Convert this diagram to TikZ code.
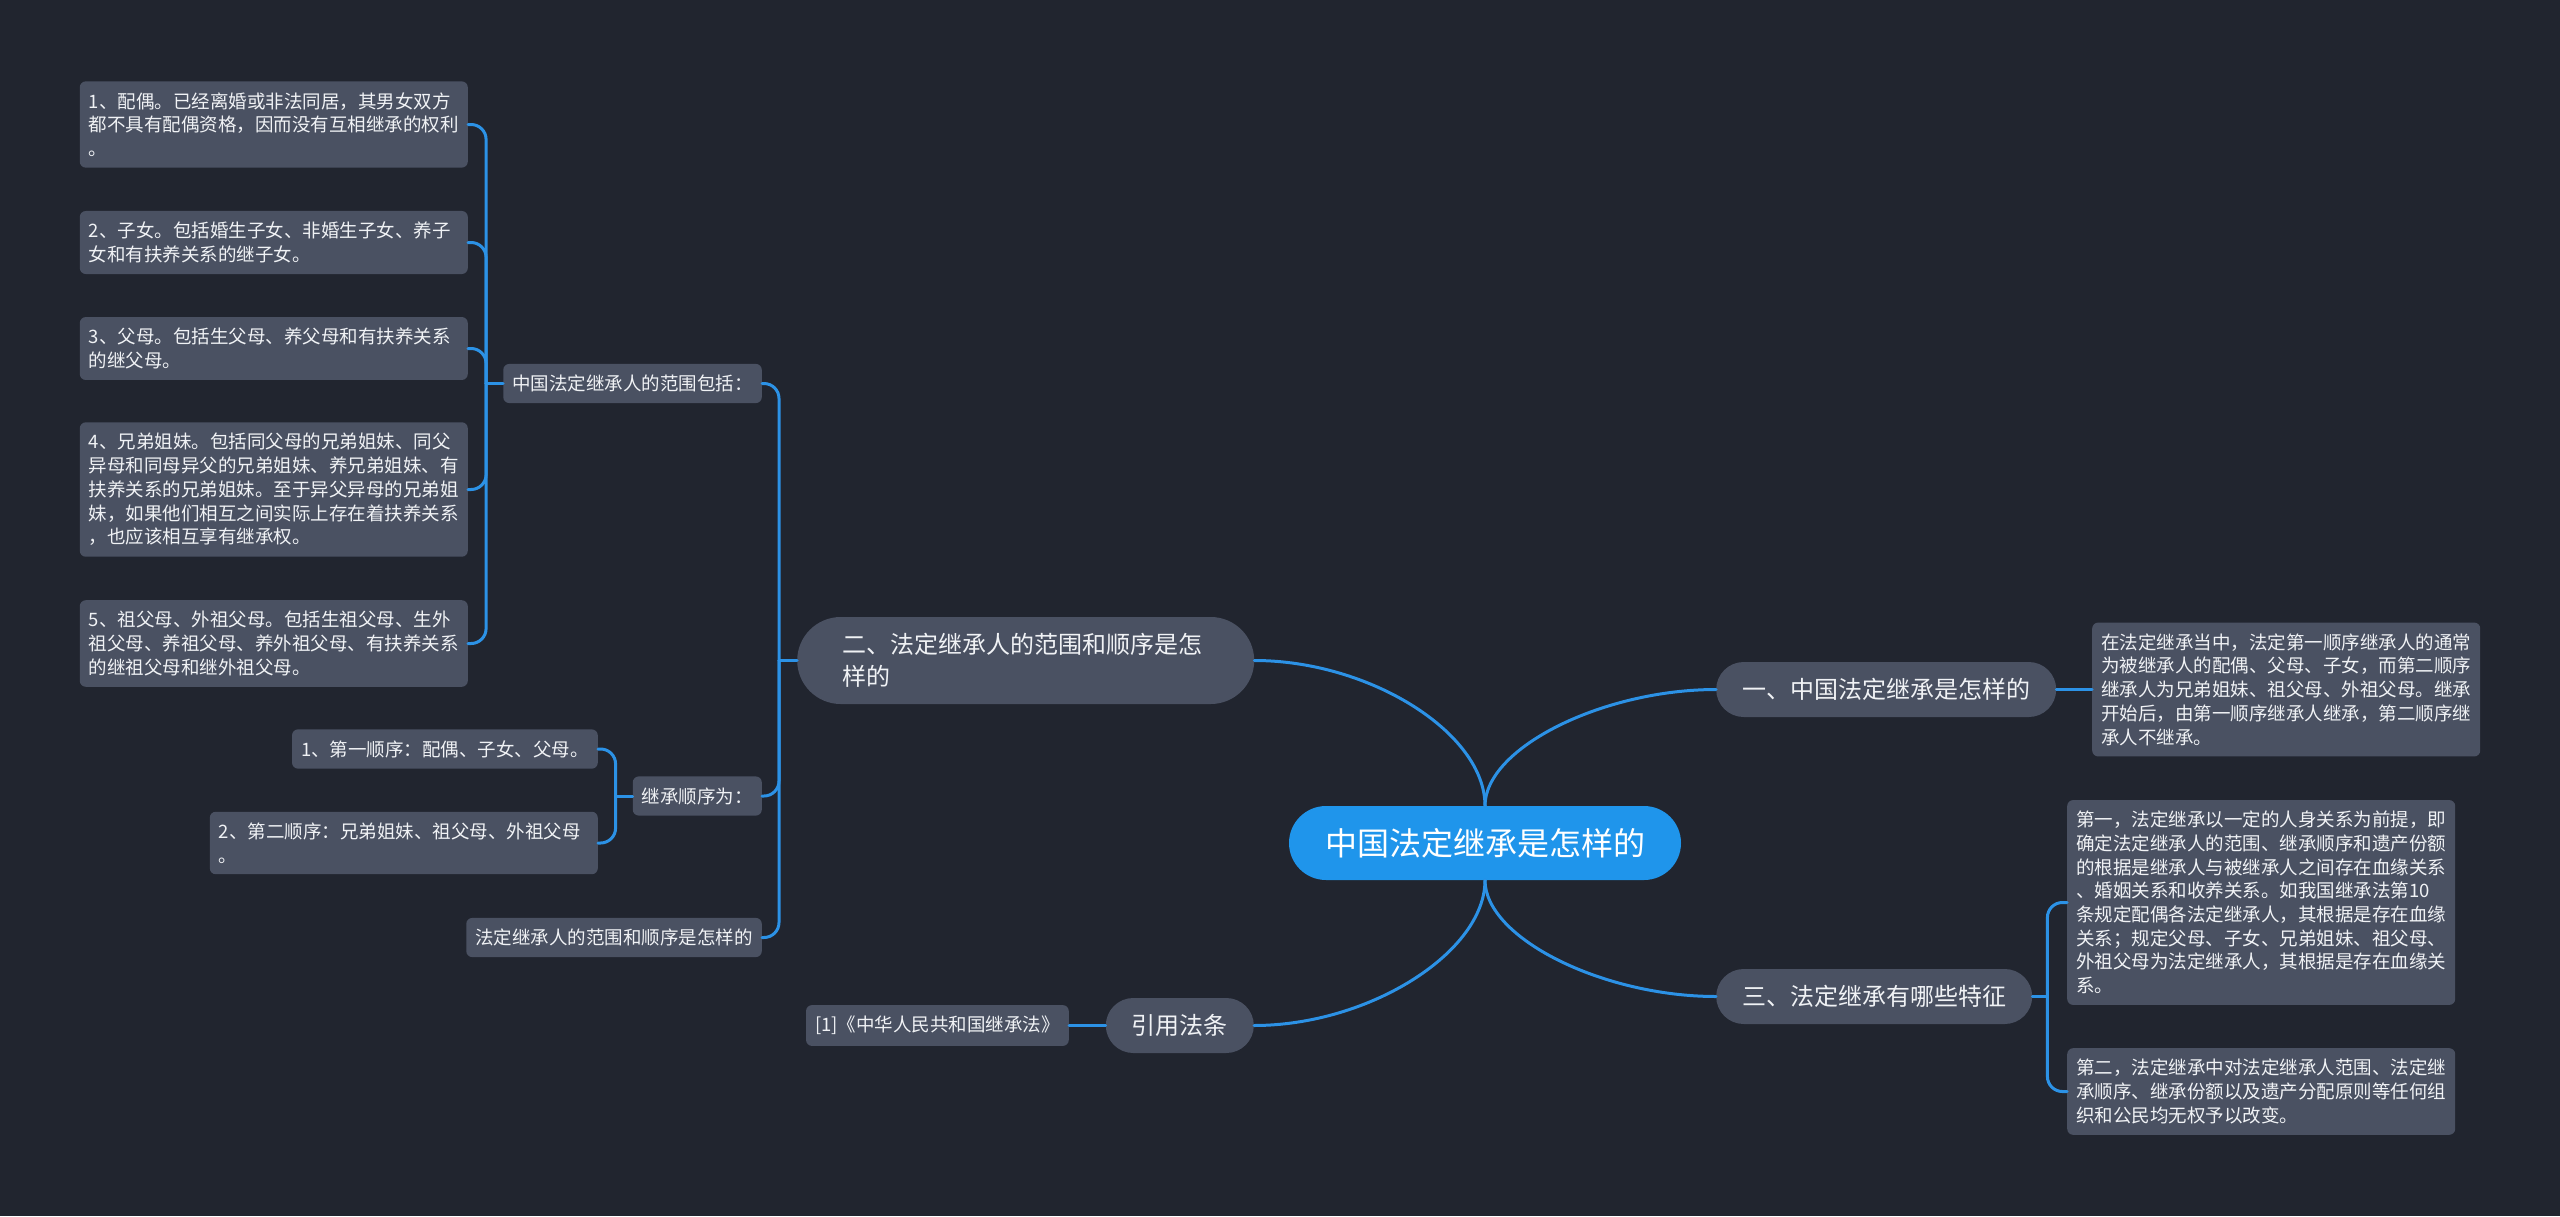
\documentclass[tikz,border=0pt]{standalone}
\usepackage{fontspec}
\usetikzlibrary{positioning}
\newfontfamily\cjk{Noto Sans CJK SC}
\definecolor{bgdark}{HTML}{21252F}
\definecolor{boxgray}{HTML}{4A5162}
\definecolor{linkblue}{HTML}{2C92E6}
\definecolor{rootblue}{HTML}{1F95EB}
\definecolor{txtwhite}{HTML}{F0F2F5}

\begin{document}
\begin{tikzpicture}[x=1pt,y=-1pt,
    link/.style={draw=linkblue,line width=3pt,line cap=round},
    leaf/.style={fill=boxgray,text=txtwhite,rounded corners=6pt,align=left,
      inner xsep=9pt,inner ysep=11pt,font=\cjk\fontsize{18.5}{23.7}\selectfont},
    wideleaf/.style={leaf,text width=370pt},
    pill/.style={fill=boxgray,text=txtwhite,rounded corners=27.5pt,minimum height=55pt,
      inner xsep=26pt,inner ysep=8pt,font=\cjk\fontsize{24}{31.7}\selectfont},
    rootpill/.style={fill=rootblue,text=white,rounded corners=37pt,minimum height=74pt,
      inner xsep=36pt,font=\cjk\fontsize{32}{38}\selectfont}]
      \useasboundingbox (0,0) rectangle (2560,1216);
      \fill[bgdark] (0,0) rectangle (2560,1216);

      \node[rootpill] (root) at (1485,843) {中国法定继承是怎样的};

      \node[pill, anchor=west] (one) at (1716,689.5) {一、中国法定继承是怎样的};
      \node[pill, anchor=west, rounded corners=43.5pt, minimum height=87pt, text width=366pt, inner xsep=45.5pt, align=left] (two) at (797,660.5) {二、法定继承人的范围和顺序是怎\\样的};
      \node[pill, anchor=west] (three) at (1716,996.5) {三、法定继承有哪些特征};
      \node[pill, anchor=east] (cite) at (1254,1025.5) {引用法条};

      \node[wideleaf, anchor=west] (onetext) at (2092,689.5) {在法定继承当中，法定第一顺序继承人的通常\\为被继承人的配偶、父母、子女，而第二顺序\\继承人为兄弟姐妹、祖父母、外祖父母。继承\\开始后，由第一顺序继承人继承，第二顺序继\\承人不继承。};

      \node[wideleaf, anchor=west] (feat1) at (2067,902.5) {第一，法定继承以一定的人身关系为前提，即\\确定法定继承人的范围、继承顺序和遗产份额\\的根据是继承人与被继承人之间存在血缘关系\\、婚姻关系和收养关系。如我国继承法第10\\条规定配偶各法定继承人，其根据是存在血缘\\关系；规定父母、子女、兄弟姐妹、祖父母、\\外祖父母为法定继承人，其根据是存在血缘关\\系。};
      \node[wideleaf, anchor=west] (feat2) at (2067,1091.5) {第二，法定继承中对法定继承人范围、法定继\\承顺序、继承份额以及遗产分配原则等任何组\\织和公民均无权予以改变。};

      \node[leaf, anchor=east] (law) at (1069,1025.5) {[1]《中华人民共和国继承法》};

      \node[leaf, anchor=east] (range) at (762,383.5) {中国法定继承人的范围包括：};
      \node[leaf, anchor=east] (order) at (762,796) {继承顺序为：};
      \node[leaf, anchor=east] (rest) at (762,937.5) {法定继承人的范围和顺序是怎样的};

      \node[wideleaf, anchor=east] (heir1) at (468,124.5) {1、配偶。已经离婚或非法同居，其男女双方\\都不具有配偶资格，因而没有互相继承的权利\\。};
      \node[wideleaf, anchor=east] (heir2) at (468,242.5) {2、子女。包括婚生子女、非婚生子女、养子\\女和有扶养关系的继子女。};
      \node[wideleaf, anchor=east] (heir3) at (468,348.5) {3、父母。包括生父母、养父母和有扶养关系\\的继父母。};
      \node[wideleaf, anchor=east] (heir4) at (468,489.5) {4、兄弟姐妹。包括同父母的兄弟姐妹、同父\\异母和同母异父的兄弟姐妹、养兄弟姐妹、有\\扶养关系的兄弟姐妹。至于异父异母的兄弟姐\\妹，如果他们相互之间实际上存在着扶养关系\\，也应该相互享有继承权。};
      \node[wideleaf, anchor=east] (heir5) at (468,643.5) {5、祖父母、外祖父母。包括生祖父母、生外\\祖父母、养祖父母、养外祖父母、有扶养关系\\的继祖父母和继外祖父母。};

      \node[leaf, anchor=east] (rank1) at (598,749) {1、第一顺序：配偶、子女、父母。};
      \node[wideleaf, anchor=east] (rank2) at (598,843) {2、第二顺序：兄弟姐妹、祖父母、外祖父母\\。};

      \draw[link] (root.north) .. controls +(0,-73) and +(115,0) .. (two.east);
      \draw[link] (root.north) .. controls +(0,-58) and +(-113,0) .. (one.west);
      \draw[link] (root.south) .. controls +(0,72) and +(115,0) .. (cite.east);
      \draw[link] (root.south) .. controls +(0,58) and +(-113,0) .. (three.west);

      \draw[link] (one.east) -- (onetext.west);
      \draw[link] (cite.west) -- (law.east);

      \coordinate[right=15pt of three.east] (threeJ);
      \draw[link] (three.east) -- (threeJ);
      \draw[link, rounded corners=15pt] (threeJ) |- (feat1.west);
      \draw[link, rounded corners=15pt] (threeJ) |- (feat2.west);

      \coordinate[left=18pt of two.west] (twoJ);
      \draw[link] (two.west) -- (twoJ);
      \draw[link, rounded corners=15pt] (twoJ) |- (range.east);
      \draw[link, rounded corners=15pt] (twoJ) |- (order.east);
      \draw[link, rounded corners=15pt] (twoJ) |- (rest.east);

      \coordinate[left=17pt of range.west] (rangeJ);
      \draw[link] (range.west) -- (rangeJ);
      \foreach \k in {1,...,5}
        \draw[link, rounded corners=15pt] (rangeJ) |- (heir\k.east);

      \coordinate[left=17pt of order.west] (orderJ);
      \draw[link] (order.west) -- (orderJ);
      \draw[link, rounded corners=15pt] (orderJ) |- (rank1.east);
      \draw[link, rounded corners=15pt] (orderJ) |- (rank2.east);
    \end{tikzpicture}
\end{document}
